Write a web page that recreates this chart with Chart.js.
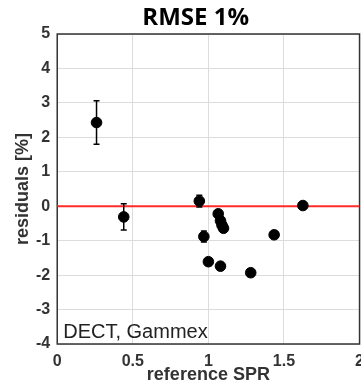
<!DOCTYPE html>
<html>
<head>
<meta charset="utf-8">
<script src="https://cdn.jsdelivr.net/npm/chart.js@4"></script>
<style>
  html, body { margin: 0; padding: 0; overflow: hidden; background: #fff; }
  #wrap { position: relative; width: 374px; height: 386px; }
</style>
</head>
<body>
<div id="wrap"><canvas id="residualsChart"></canvas></div>
<script>
// values
const referenceSPR = [0.26, 0.44, 0.94, 0.97, 1.0, 1.065, 1.08, 1.09, 1.1, 1.08, 1.28, 1.435, 1.625];
const residuals = [2.43, -0.31, 0.15, -0.88, -1.61, -0.22, -0.42, -0.55, -0.64, -1.74, -1.93, -0.83, 0.02];
const residualErrors = [0.63, 0.38, 0.17, 0.16, 0.1, 0.1, 0.1, 0.1, 0.1, 0.1, 0.1, 0.1, 0.1];

const xTicks = [0, 0.5, 1, 1.5, 2];
const yTicks = [-4, -3, -2, -1, 0, 1, 2, 3, 4, 5];
const zeroLineX = [0, 2];

const chartTitle = "RMSE 1%";
const panelLabel = "DECT, Gammex";
const xTitle = "reference SPR";
const yTitle = "residuals [%]";

const tickFont = { family: "'Liberation Sans', Arial, sans-serif", size: 16, weight: "bold", lineHeight: 1 };
const axisTitleFont = { family: "'Liberation Sans', Arial, sans-serif", size: 18, weight: "bold", lineHeight: 1 };

function errorBarPoints() {
  const pts = [];
  for (let i = 0; i < referenceSPR.length; i++) {
    pts.push({ x: referenceSPR[i], y: residuals[i] - residualErrors[i] });
    pts.push({ x: referenceSPR[i], y: residuals[i] + residualErrors[i] });
    pts.push({ x: referenceSPR[i], y: null });
  }
  return pts;
}

const frameAndLabels = {
  id: "frameAndLabels",
  beforeDatasetsDraw(chart) {
    const { ctx, chartArea } = chart;
    ctx.save();
    ctx.strokeStyle = "#333";
    ctx.lineWidth = 1.5;
    ctx.strokeRect(chartArea.left, chartArea.top, chartArea.right - chartArea.left, chartArea.bottom - chartArea.top);
    ctx.restore();
  },
  afterDraw(chart) {
    const { ctx, chartArea } = chart;
    ctx.save();
    ctx.fillStyle = "#000";
    ctx.textAlign = "center";
    ctx.textBaseline = "alphabetic";
    ctx.font = "bold 24px 'Open Sans', sans-serif";
    ctx.fillText(chartTitle, chartArea.left + (chartArea.right - chartArea.left) * 0.458, 25);

    ctx.fillStyle = "#222";
    ctx.textAlign = "left";
    ctx.font = "20px 'Liberation Sans', Arial, sans-serif";
    ctx.fillText(panelLabel, chartArea.left + 6, chartArea.bottom - 6);
    ctx.restore();
  },
};

new Chart(document.getElementById("residualsChart"), {
  type: "scatter",
  data: {
    datasets: [
      {
        label: "residuals",
        data: referenceSPR.map((x, i) => ({ x, y: residuals[i] })),
        backgroundColor: "#000",
        borderColor: "#000",
        pointRadius: 5.3,
        pointHoverRadius: 5.3,
        order: 1,
      },
      {
        label: "errors",
        data: errorBarPoints(),
        showLine: true,
        spanGaps: false,
        borderColor: "#000",
        backgroundColor: "#000",
        borderWidth: 1.5,
        pointStyle: "line",
        pointRadius: 3,
        pointBorderWidth: 1.5,
        order: 2,
      },
      {
        label: "zero",
        data: zeroLineX.map((x) => ({ x, y: 0 })),
        showLine: true,
        borderColor: "#ff2a2a",
        borderWidth: 2,
        pointRadius: 0,
        order: 3,
      },
    ],
  },
  options: {
    animation: false,
    responsive: true,
    maintainAspectRatio: false,
    layout: { padding: { left: 9, right: 12, top: 34, bottom: 2 } },
    plugins: {
      legend: { display: false },
      tooltip: { enabled: false },
    },
    scales: {
      x: {
        type: "linear",
        min: 0,
        max: 2,
        afterBuildTicks: (axis) => { axis.ticks = xTicks.map((value) => ({ value })); },
        ticks: { callback: (v) => String(v), color: "#333", font: tickFont, padding: 10, maxRotation: 0 },
        grid: { color: "#dcdcdc", drawTicks: false },
        border: { display: false },
        title: { display: true, text: xTitle, color: "#333", font: axisTitleFont, padding: { top: -14, bottom: 0 } },
      },
      y: {
        type: "linear",
        min: -4,
        max: 5,
        afterBuildTicks: (axis) => { axis.ticks = yTicks.map((value) => ({ value })); },
        ticks: { callback: (v) => String(v), color: "#333", font: tickFont, padding: 7 },
        grid: { color: "#dcdcdc", drawTicks: false },
        border: { display: false },
        title: { display: true, text: yTitle, color: "#333", font: axisTitleFont, padding: { top: 5.5, bottom: -3.5 } },
      },
    },
  },
  plugins: [frameAndLabels],
});
</script>
</body>
</html>
